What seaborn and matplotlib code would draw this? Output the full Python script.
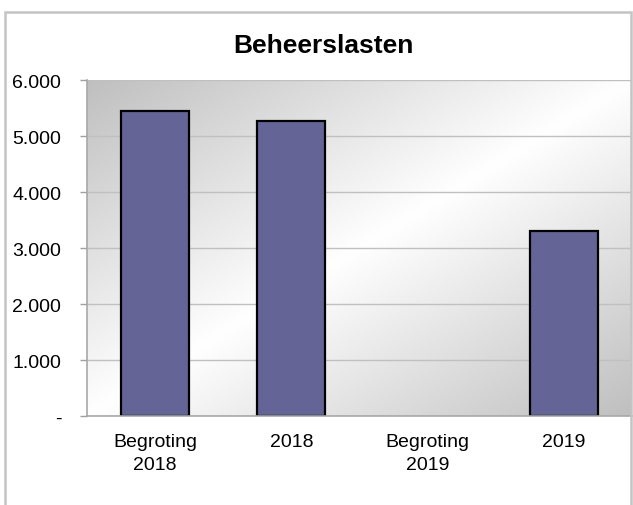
import numpy as np
import pandas as pd
import matplotlib
matplotlib.use("Agg")
import matplotlib.pyplot as plt
import seaborn as sns
from matplotlib.patches import Rectangle

categories = ["Begroting\n2018", "2018", "Begroting\n2019", "2019"]
values = [5450, 5270, np.nan, 3310]
yticks = [0, 1000, 2000, 3000, 4000, 5000, 6000]
ytick_labels = ["-", "1.000", "2.000", "3.000", "4.000", "5.000", "6.000"]
title = "Beheerslasten"

sns.set_theme(style="white")
plt.rcParams["font.family"] = ["Liberation Sans", "DejaVu Sans"]

df = pd.DataFrame({"cat": categories, "val": values})

fig = plt.figure(figsize=(6.33, 5.06), dpi=100)
ax = fig.add_axes([87/633, 1-417/506, (632-87)/633, (417-81)/506])

# gradient background (diagonal: gray -> white -> gray)
n = 200
xx, yy = np.meshgrid(np.linspace(0, 1, n), np.linspace(0, 1, n))
t = (xx + yy) / 2.0
v = 1.0 - 0.25 * np.abs(t - 0.5) * 2
v = np.clip(v, 0, 1)
img = np.dstack([v, v, v])
ax.imshow(img, extent=[0, 1, 0, 1], transform=ax.transAxes, aspect="auto",
          zorder=0, origin="upper", interpolation="bilinear")

sns.barplot(data=df, x="cat", y="val", ax=ax, color="#646497", saturation=1,
            width=0.5, edgecolor="black", linewidth=1.6, zorder=3)

ax.set_ylim(0, 6000)
ax.set_xlim(-0.5, 3.5)
ax.set_yticks(yticks)
ax.set_yticklabels(ytick_labels)
ax.yaxis.grid(True, color="#c0c0c0", linewidth=1.0, zorder=1)
ax.set_axisbelow(False)
for l in ax.get_ygridlines():
    l.set_zorder(1)
ax.set_xlabel("")
ax.set_ylabel("")

ax.set_xticks([0, 1, 2, 3])
ax.set_xticklabels(categories, fontsize=14, linespacing=1.5)
ax.tick_params(axis="x", length=0, pad=12)
ax.set_xticks([-0.5, 0.5, 1.5, 2.5, 3.5], minor=True)
ax.tick_params(axis="x", which="minor", length=5, color="#a0a0a0", width=1, direction="out")
ax.tick_params(axis="y", length=5, color="#a0a0a0", width=1, direction="out",
               pad=13.5, labelsize=14, left=True)
for lab in ax.get_yticklabels():
    lab.set_color("black")
for lab in ax.get_xticklabels():
    lab.set_color("black")

for s in ["top", "right"]:
    ax.spines[s].set_visible(False)
for s in ["left", "bottom"]:
    ax.spines[s].set_color("#a8a8a8")
    ax.spines[s].set_linewidth(1.2)
ax.spines["bottom"].set_zorder(4)

fig.text(323/633, 1-46/506, title, ha="center", va="center", fontsize=19,
         fontweight="bold", color="black")

fig.patches.append(Rectangle((5/633, -0.05), (631-5)/633, 1.05-12.5/506,
                             transform=fig.transFigure, fill=False,
                             edgecolor="#c4c4c4", linewidth=1.8, zorder=10))

fig.savefig("out.png", dpi=100)
